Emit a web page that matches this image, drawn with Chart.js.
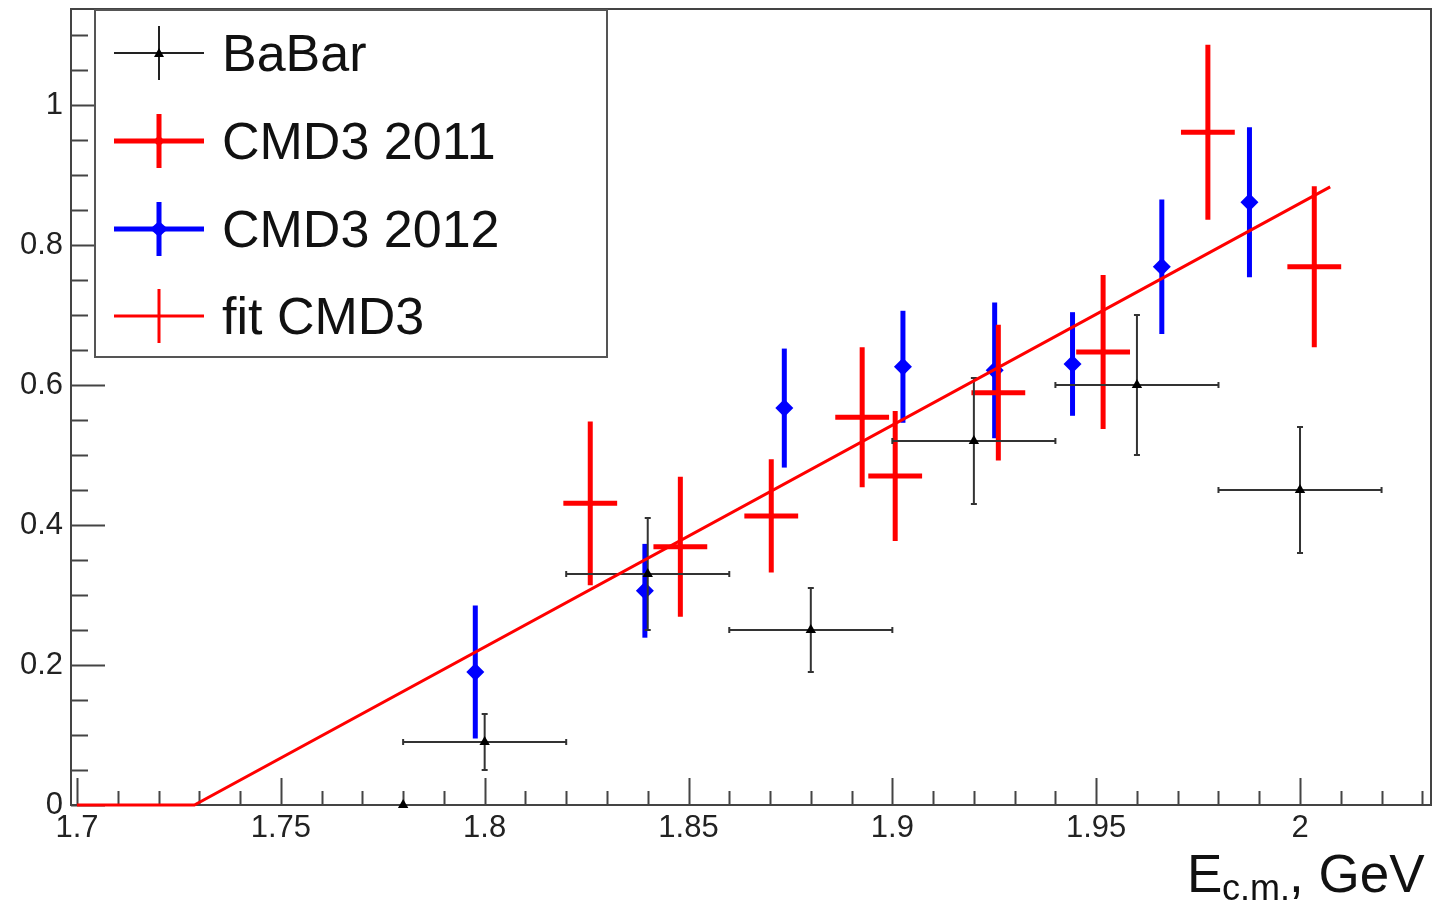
<!DOCTYPE html>
<html><head><meta charset="utf-8">
<script src="https://cdn.jsdelivr.net/npm/chart.js@4.4.0/dist/chart.umd.min.js"></script>
<style>html,body{margin:0;padding:0;background:#fff;overflow:hidden}#wrap{width:1435px;height:908px;position:relative}canvas{display:block}</style>
</head><body><div id="wrap"><canvas id="c" width="1435" height="908" style="width:1435px;height:908px"></canvas></div>
<script>
// ---- data ----
const babarLabel = 'BaBar';
const babarX    = [1.78, 1.80, 1.84, 1.88, 1.92, 1.96, 2.00];
const babarY    = [0.00, 0.09, 0.33, 0.25, 0.52, 0.60, 0.45];
const babarYErr = [0.00, 0.04, 0.08, 0.06, 0.09, 0.10, 0.09];
const babarXErr = [0.00, 0.02, 0.02, 0.02, 0.02, 0.02, 0.02];

const cmd11Label = 'CMD3 2011';
const cmd11X    = [1.8259, 1.848, 1.8703, 1.8926, 1.9007, 1.926, 1.9517, 1.9774, 2.0035];
const cmd11Y    = [0.431, 0.369, 0.413, 0.554, 0.470, 0.589, 0.647, 0.961, 0.769];
const cmd11YErr = [0.117, 0.100, 0.081, 0.100, 0.093, 0.097, 0.110, 0.125, 0.115];
const cmd11XErr = [0.0066, 0.0066, 0.0066, 0.0066, 0.0066, 0.0066, 0.0066, 0.0066, 0.0066];

const cmd12Label = 'CMD3 2012';
const cmd12X    = [1.7977, 1.8393, 1.8735, 1.9026, 1.9251, 1.9442, 1.9661, 1.9876];
const cmd12Y    = [0.190, 0.306, 0.567, 0.626, 0.621, 0.630, 0.769, 0.861];
const cmd12YErr = [0.095, 0.067, 0.085, 0.080, 0.097, 0.074, 0.096, 0.107];

const fitLabel = 'fit CMD3';
const fitX = [1.7, 1.7288, 2.0074];
const fitY = [0, 0, 0.883];

const xMajorTicks = [1.7, 1.75, 1.8, 1.85, 1.9, 1.95, 2.0];
const xTickLabels = ['1.7', '1.75', '1.8', '1.85', '1.9', '1.95', '2'];
const yMajorTicks = [0, 0.2, 0.4, 0.6, 0.8, 1.0];
const yTickLabels = ['0', '0.2', '0.4', '0.6', '0.8', '1'];
const xMinorStep = 0.01;
const yMinorStep = 0.05;
const xTitleMain = 'E', xTitleSub = 'c.m.', xTitleRest = ', GeV';

// ---- build ----
const pts = (xs, ys) => xs.map((x, i) => ({x: x, y: ys[i]}));
const FONT = '"Liberation Sans", Arial, Helvetica, sans-serif';

const datasets = [
  {label: cmd12Label, data: pts(cmd12X, cmd12Y), yErr: cmd12YErr, xErr: null,
   errColor: '#0000ff', errWidth: 5, pointStyle: 'rectRot', pointRadius: 9,
   backgroundColor: '#0000ff', borderColor: '#0000ff', borderWidth: 0, showLine: false, order: 4, clip: false},
  {label: cmd11Label, data: pts(cmd11X, cmd11Y), yErr: cmd11YErr, xErr: cmd11XErr,
   errColor: '#ff0000', errWidth: 5, pointStyle: 'circle', pointRadius: 3,
   backgroundColor: '#ff0000', borderColor: '#ff0000', borderWidth: 0, showLine: false, order: 3, clip: false},
  {label: babarLabel, data: pts(babarX, babarY), yErr: babarYErr, xErr: babarXErr,
   errColor: '#333333', errWidth: 2, caps: 3, pointStyle: 'triangle', pointRadius: 6,
   backgroundColor: '#000000', borderColor: '#000000', borderWidth: 0, showLine: false, order: 2, clip: false},
  {label: fitLabel, type: 'line', data: pts(fitX, fitY), borderColor: '#ff0000', borderWidth: 3,
   pointRadius: 0, showLine: true, fill: false, tension: 0, order: 1, clip: false}
];

const errorBars = {
  id: 'errorBars',
  beforeDatasetDraw(chart, args) {
    const ds = chart.data.datasets[args.index];
    if (!ds.yErr) return;
    const xs = chart.scales.x, ys = chart.scales.y, ctx = chart.ctx;
    ctx.save();
    ctx.strokeStyle = ds.errColor; ctx.lineWidth = ds.errWidth; ctx.lineCap = 'butt';
    ds.data.forEach((p, i) => {
      const px = xs.getPixelForValue(p.x), py = ys.getPixelForValue(p.y);
      const ey = ds.yErr[i], ex = ds.xErr ? ds.xErr[i] : 0;
      ctx.beginPath();
      if (ey > 0) {
        const y1 = ys.getPixelForValue(p.y - ey), y2 = ys.getPixelForValue(p.y + ey);
        ctx.moveTo(px, y1); ctx.lineTo(px, y2);
        if (ds.caps) { ctx.moveTo(px - ds.caps, y1); ctx.lineTo(px + ds.caps, y1); ctx.moveTo(px - ds.caps, y2); ctx.lineTo(px + ds.caps, y2); }
      }
      if (ex > 0) {
        const x1 = xs.getPixelForValue(p.x - ex), x2 = xs.getPixelForValue(p.x + ex);
        ctx.moveTo(x1, py); ctx.lineTo(x2, py);
        if (ds.caps) { ctx.moveTo(x1, py - ds.caps); ctx.lineTo(x1, py + ds.caps); ctx.moveTo(x2, py - ds.caps); ctx.lineTo(x2, py + ds.caps); }
      }
      ctx.stroke();
    });
    ctx.restore();
  }
};

const frame = {
  id: 'frame',
  beforeDatasetsDraw(chart) {
    const {ctx, chartArea: a, scales: {x: xs, y: ys}} = chart;
    ctx.save();
    ctx.strokeStyle = '#444'; ctx.lineWidth = 2;
    ctx.strokeRect(a.left, a.top, a.right - a.left, a.bottom - a.top);
    ctx.beginPath();
    const x0 = Math.ceil(xs.min / xMinorStep - 1e-6);
    for (let k = x0; k * xMinorStep <= xs.max + 1e-9; k++) {
      const v = k * xMinorStep;
      const major = xMajorTicks.some(m => Math.abs(m - v) < 1e-6);
      const px = Math.round(xs.getPixelForValue(v)) + 0.5;
      ctx.moveTo(px, a.bottom); ctx.lineTo(px, a.bottom - (major ? 27 : 14));
    }
    for (let k = 0; k * yMinorStep <= ys.max + 1e-9; k++) {
      const v = k * yMinorStep;
      const major = yMajorTicks.some(m => Math.abs(m - v) < 1e-6);
      const py = Math.round(ys.getPixelForValue(v)) + 0.5;
      ctx.moveTo(a.left, py); ctx.lineTo(a.left + (major ? 34 : 17), py);
    }
    ctx.stroke();
    ctx.restore();
  },
  afterDraw(chart) {
    const ctx = chart.ctx;
    ctx.save();
    ctx.fillStyle = '#fff'; ctx.fillRect(95, 10, 512, 347);
    ctx.strokeStyle = '#555'; ctx.lineWidth = 2; ctx.strokeRect(95, 10, 512, 347);
    const entries = [
      {label: babarLabel, color: '#222', w: 2, hx: 45, hy: 27, mark: 'tri'},
      {label: cmd11Label, color: '#ff0000', w: 5, hx: 45, hy: 27, mark: 'dot'},
      {label: cmd12Label, color: '#0000ff', w: 5, hx: 45, hy: 27, mark: 'dia'},
      {label: fitLabel, color: '#ff0000', w: 3, hx: 45, hy: 27, mark: null}
    ];
    const rowY = [53, 141, 229, 316];
    entries.forEach((e, i) => {
      const cx = 159, cy = rowY[i];
      ctx.strokeStyle = e.color; ctx.fillStyle = e.color; ctx.lineWidth = e.w;
      ctx.beginPath();
      ctx.moveTo(cx - e.hx, cy); ctx.lineTo(cx + e.hx, cy);
      ctx.moveTo(cx, cy - e.hy); ctx.lineTo(cx, cy + e.hy);
      ctx.stroke();
      if (e.mark === 'tri') { ctx.fillStyle = '#000'; ctx.beginPath(); ctx.moveTo(cx, cy - 5); ctx.lineTo(cx + 5, cy + 4); ctx.lineTo(cx - 5, cy + 4); ctx.closePath(); ctx.fill(); }
      if (e.mark === 'dot') { ctx.beginPath(); ctx.arc(cx, cy, 4, 0, Math.PI * 2); ctx.fill(); }
      if (e.mark === 'dia') { ctx.beginPath(); ctx.moveTo(cx, cy - 8); ctx.lineTo(cx + 9, cy); ctx.lineTo(cx, cy + 8); ctx.lineTo(cx - 9, cy); ctx.closePath(); ctx.fill(); }
      ctx.fillStyle = '#111'; ctx.font = '52px ' + FONT; ctx.textBaseline = 'alphabetic'; ctx.textAlign = 'left';
      ctx.fillText(e.label, 222, cy + 18);
    });
    ctx.fillStyle = '#111'; ctx.textBaseline = 'alphabetic'; ctx.textAlign = 'left';
    ctx.font = '53px ' + FONT; ctx.fillText(xTitleMain, 1187, 892);
    ctx.font = '36px ' + FONT; ctx.fillText(xTitleSub, 1222, 900);
    ctx.font = '53px ' + FONT; ctx.fillText(xTitleRest, 1289, 892);
    ctx.restore();
  }
};

const zeroPad = s => { s.paddingTop = 0; s.paddingBottom = 0; s.paddingLeft = 0; s.paddingRight = 0; };
const noLabelPad = s => { s._calculatePadding = function () { zeroPad(this); }; };

new Chart(document.getElementById('c'), {
  type: 'scatter',
  data: {datasets: datasets},
  options: {
    responsive: false, maintainAspectRatio: false, animation: false, devicePixelRatio: 1,
    layout: {autoPadding: false, padding: {top: 9, right: 4, left: 0, bottom: 0}},
    plugins: {legend: {display: false}, tooltip: {enabled: false}, title: {display: false}},
    scales: {
      x: {
        type: 'linear', min: 1.69853, max: 2.03213,
        afterBuildTicks: s => { s.ticks = xMajorTicks.map(v => ({value: v})); },
        beforeFit: noLabelPad,
        afterFit: s => { s.height = 103; zeroPad(s); },
        grid: {display: false, drawTicks: false}, border: {display: false},
        ticks: {autoSkip: false, maxRotation: 0, padding: 5, color: '#222', font: {family: FONT, size: 31},
                callback: (v, i) => xTickLabels[i]}
      },
      y: {
        type: 'linear', min: 0, max: 1.1371,
        afterBuildTicks: s => { s.ticks = yMajorTicks.map(v => ({value: v})); },
        beforeFit: noLabelPad,
        afterFit: s => { s.width = 71; zeroPad(s); },
        grid: {display: false, drawTicks: false}, border: {display: false},
        ticks: {autoSkip: false, padding: 8, color: '#222', font: {family: FONT, size: 31},
                callback: (v, i) => yTickLabels[i]}
      }
    }
  },
  plugins: [errorBars, frame]
});
</script></body></html>
